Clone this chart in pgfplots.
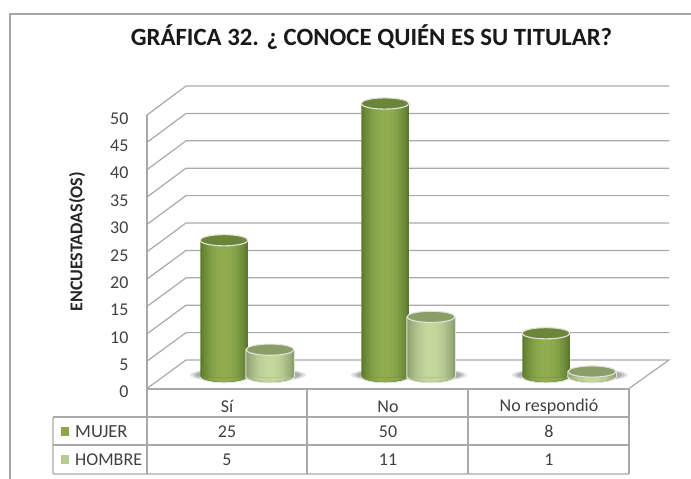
\documentclass[border=0pt]{standalone}
\usepackage{pgfplots}
\pgfplotsset{compat=1.18}
\usepackage{fontspec}
\setmainfont{Carlito}
\definecolor{gridc}{HTML}{A9A9A9}
\definecolor{framec}{HTML}{A6A6A6}
\definecolor{txt}{HTML}{404040}
\definecolor{mD}{HTML}{5C7A2E}
\definecolor{mM}{HTML}{8FAD4F}
\definecolor{mT}{HTML}{6B8638}
\definecolor{hD}{HTML}{8DA072}
\definecolor{hM}{HTML}{C3D69B}
\definecolor{hT}{HTML}{8A9F68}
\definecolor{keyM}{HTML}{8BA748}
\definecolor{keyH}{HTML}{B7CC8E}
\definecolor{rim}{HTML}{E2E2DC}
\newcommand\basecyl[2]{%
  \path[fill=#1,draw=rim,line width=1.2pt,rotate=3] (0pt,0pt) ellipse [x radius=24pt,y radius=5.6pt];
  \path[fill=#2!50!#1,draw=#2!50!#1,line width=.1pt,rotate=3] (0pt,0pt) ellipse [x radius=22pt,y radius=5pt];
  \path[fill=#2!85!#1,draw=#2!85!#1,line width=.1pt,rotate=3] (0pt,0pt) ellipse [x radius=17pt,y radius=5pt];
  \path[fill=#2,draw=#2,line width=.1pt,rotate=3] (0pt,0pt) ellipse [x radius=10pt,y radius=5pt];
}
\pgfdeclareplotmark{topM}{\path[fill=mT,draw=rim,line width=1.1pt,rotate=3] (0pt,0pt) ellipse [x radius=24pt,y radius=5.6pt];}
\pgfdeclareplotmark{topH}{\path[fill=hT,draw=rim,line width=1.1pt,rotate=3] (0pt,0pt) ellipse [x radius=24pt,y radius=5.6pt];}
\pgfdeclareplotmark{botM}{\basecyl{mD}{mM}}
\pgfdeclareplotmark{botH}{\basecyl{hD}{hM}}
\pgfdeclareplotmark{shad}{%
  \path[fill=black,draw opacity=0,fill opacity=.10] (1pt,2pt) ellipse [x radius=35pt,y radius=6pt];
  \path[fill=black,draw opacity=0,fill opacity=.12] (1pt,2pt) ellipse [x radius=32pt,y radius=5.5pt];
  \path[fill=black,draw opacity=0,fill opacity=.14] (1pt,2pt) ellipse [x radius=29pt,y radius=5pt];}
\newcommand\cylbars[3]{%
  \pgfplotsinvokeforeach{0,...,11}{%
    \pgfmathsetmacro\p{100*(1-(1-##1/11)^2)}%
    \pgfmathsetmacro\w{47.5*(1-##1/12)}%
    \edef\temp{\noexpand\addplot[ybar,bar width=\w pt,bar shift=0pt,draw=none,fill=#2!\p!#1,forget plot] coordinates {#3};}%
    \temp
  }}
\begin{document}
\begin{tikzpicture}
\useasboundingbox (0pt,0pt) rectangle (691pt,-479pt);
\begin{scope}[x=1pt,y=-1pt]
  \draw[framec,line width=1.3pt] (10,479) -- (10,14) -- (691,14);
  \foreach \i in {0,...,10}{
    \pgfmathsetmacro{\fy}{388.5-27.35*\i}
    \pgfmathsetmacro{\by}{360-27.4*\i}
    \ifnum\i=0
      \draw[gridc,line width=1.2pt] (147,\fy) -- (186,\by) -- (669,\by) -- (629,388.5);
    \else
      \draw[gridc,line width=1.2pt] (147,\fy) -- (186,\by) -- (669,\by);
    \fi
  }
  \draw[gridc,line width=1.2pt] (147,389) -- (629,389);
  \draw[gridc,line width=1.2pt,rounded corners=1pt] (147,417) -- (53,417) -- (53,474) -- (629,474);
  \draw[gridc,line width=1.2pt] (53,417) -- (629,417) (53,445) -- (629,445);
  \draw[gridc,line width=1.2pt] (147,115) -- (147,474) (307,389) -- (307,474) (468,389) -- (468,474) (629,389) -- (629,474);
  \fill[keyM] (60.5,427) rectangle (69,435.5);
  \fill[keyH] (60.5,455) rectangle (69,463.5);
  \node[anchor=west,text=txt,font=\fontsize{18.5}{20}\selectfont,inner sep=0pt] at (75,431.5) {MUJER};
  \node[anchor=west,text=txt,font=\fontsize{18}{20}\selectfont,inner sep=0pt] at (75,459.5) {HOMBRE};
  \foreach \x/\a/\b in {227/25/5,388/50/11,549/8/1}{
    \node[text=txt,font=\fontsize{18}{20}\selectfont,inner sep=0pt] at (\x,431.5) {\a};
    \node[text=txt,font=\fontsize{18}{20}\selectfont,inner sep=0pt] at (\x,459.5) {\b};
  }
  \node[font=\fontsize{24.8}{26}\bfseries\selectfont,text=black!90,inner sep=0pt] at (371.5,37.5) {GRÁFICA 32. ¿ CONOCE QUIÉN ES SU TITULAR?};
  \node[rotate=90,font=\fontsize{18}{20}\bfseries\selectfont,text=black!85,inner sep=0pt] at (77,242) {ENCUESTADAS(OS)};
\end{scope}
\begin{axis}[
  at={(147pt,-388.5pt)},anchor=south west,scale only axis,
  width=482pt,height=273.5pt,
  xmin=147,xmax=629,ymin=0,ymax=50,
  axis x line*=bottom,axis y line*=left,
  axis line style={draw=none},
  ytick={0,5,...,50},
  xtick={227,388,549},
  xticklabels={Sí,No,No respondió},
  major tick length=0pt,
  /pgf/number format/assume math mode=true,
  tick label style={text=txt,font=\fontsize{18}{20}\selectfont},
  yticklabel style={xshift=-15pt,yshift=-3.5pt},
  xticklabel style={anchor=center,yshift=-18pt},
  clip=false,
]
\addplot[draw=none,forget plot] coordinates {(147,0)(629,50)};
\end{axis}
\begin{axis}[
  at={(0pt,-377pt)},anchor=south west,scale only axis,
  width=691pt,height=273.5pt,
  xmin=0,xmax=691,ymin=0,ymax=50,
  hide axis,clip=false,clip mode=individual,
]
\addplot[only marks,mark=shad,forget plot] coordinates {(224,0)(270,0)(385,0)(431,0)(546,0)(592,0)};
\addplot[only marks,mark=botM,forget plot] coordinates {(224,0)(385,0)(546,0)};
\cylbars{mD}{mM}{(224,25)(385,50)(546,8)}
\addplot[only marks,mark=topM,forget plot] coordinates {(224,25)(385,50)(546,8)};
\addplot[only marks,mark=botH,forget plot] coordinates {(270,0)(431,0)(592,0)};
\addplot[ybar,bar width=49.5pt,bar shift=0pt,draw=none,fill=rim,forget plot] coordinates {(270,5)(431,11)(592,1)};
\cylbars{hD}{hM}{(270,5)(431,11)(592,1)}
\addplot[only marks,mark=topH,forget plot] coordinates {(270,5)(431,11)(592,1)};
\end{axis}
\end{tikzpicture}
\end{document}
